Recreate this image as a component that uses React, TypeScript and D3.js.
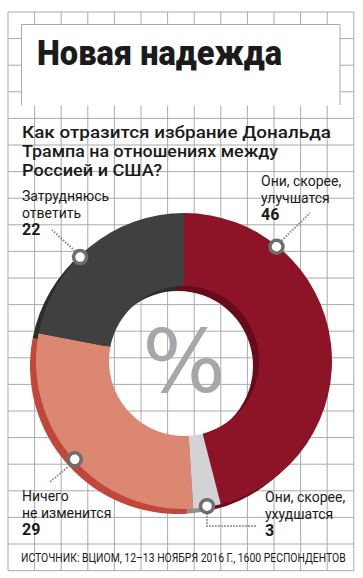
import React, { useLayoutEffect, useRef, useState } from 'react';
import * as d3 from 'd3';

// survey answers, clockwise from 12 o'clock
const categories = ['Они, скорее, улучшатся', 'Они, скорее, ухудшатся', 'Ничего не изменится', 'Затрудняюсь ответить'];
const values = [46, 3, 29, 22];
const labelLines = [
    ['Они, скорее,', 'улучшатся'],
    ['Они, скорее,', 'ухудшатся'],
    ['Ничего', 'не изменится'],
    ['Затрудняюсь', 'ответить'],
];
const sliceColors = ['#8d1427', '#d3d3d5', '#dc8771', '#404040'];
const shadowColors = ['#680b1a', '#8e8e90', '#c0473b', '#2c2c2c'];

const title = 'Новая надежда';
const questionLines = ['Как отразится избрание Дональда', 'Трампа на отношениях между', 'Россией и США?'];
const source = 'ИСТОЧНИК: ВЦИОМ, 12–13 НОЯБРЯ 2016 Г., 1600 РЕСПОНДЕНТОВ';

const W = 363;
const H = 578;
const cell = 26.6;
const gridX0 = 8;
const gridY0 = 12;
const cols = 13;
const rows = 21;

const cx = 184;
const cy = 361;
const outerR = 148;
const innerR = 75;
const shadowDx = -6;
const shadowDy = 5;

// where the callout markers sit on the ring (degrees clockwise from top), null = slice centre
const markerAngles: (number | null)[] = [39, null, 228, 315];
const labelPos = [
    { x: 261, y: 186 },
    { x: 265, y: 502 },
    { x: 22, y: 501 },
    { x: 22, y: 201 },
];

const font = 'Roboto, "DejaVu Sans", sans-serif';
const sourceWidth = 325;

const App: React.FC = () => {
    const sourceRef = useRef<SVGTextElement>(null);
    const [sourceScale, setSourceScale] = useState(0.8);

    useLayoutEffect(() => {
        if (!sourceRef.current) return;
        const len = sourceRef.current.getComputedTextLength();
        if (len > 0) setSourceScale(sourceWidth / len);
    }, []);

    const pie = d3.pie<number>().sort(null).value(d => d);
    const arcs = pie(values);
    const arc = d3.arc<d3.PieArcDatum<number>>().innerRadius(innerR).outerRadius(outerR);

    const xs = d3.range(cols + 1).map(i => gridX0 + i * cell);
    const ys = d3.range(rows + 1).map(i => gridY0 + i * cell);
    const gridRight = xs[xs.length - 1];
    const gridBottom = ys[ys.length - 1];

    const markers = arcs.map((a, i) => {
        const deg = markerAngles[i] ?? ((a.startAngle + a.endAngle) / 2) * 180 / Math.PI;
        const rad = deg * Math.PI / 180;
        const r = outerR - 1;
        return { x: cx + r * Math.sin(rad), y: cy - r * Math.cos(rad) };
    });

    const m = markers;
    const leaders = [
        `M${m[0].x + 5},${m[0].y - 6} L310,213`,
        `M${m[1].x},${m[1].y + 7} L${m[1].x},526 L257,526`,
        `M${m[2].x - 5},${m[2].y + 6} L50,482`,
        `M${m[3].x - 5},${m[3].y - 6} L52,230`,
    ];

    return (
        <svg width={W} height={H} style={{ position: 'fixed', left: 0, top: 0, background: '#fff' }}>
            <g stroke="#aaaaaa" strokeWidth={1}>
                {xs.map((x, i) => (
                    <line key={'v' + i} x1={x} x2={x} y1={gridY0} y2={gridBottom} />
                ))}
                {ys.map((y, i) => (
                    <line key={'h' + i} x1={gridX0} x2={gridRight} y1={y} y2={y} />
                ))}
            </g>

            {/* title box */}
            <rect x={21.5} y={24.5} width={318.5} height={81} fill="#fff" />
            <path d="M21.5,105 V24.5 H340 V105" fill="none" stroke="#aaaaaa" strokeWidth={1} />
            <text x={37} y={65} fontFamily={font} fontWeight={900} fontSize={35} fill="#1b1b1b"
                textLength={245} lengthAdjust="spacingAndGlyphs">{title}</text>

            {questionLines.map((t, i) => (
                <text key={t} x={22} y={138 + i * 19} fontFamily={font} fontWeight={500} fontSize={16}
                    fill="#1b1b1b" textLength={[309, 256, 140][i]} lengthAdjust="spacingAndGlyphs">{t}</text>
            ))}

            {/* donut: extruded shadow first, then the face */}
            <g transform={`translate(${cx + shadowDx},${cy + shadowDy})`}>
                {arcs.map((a, i) => (
                    <path key={'s' + i} d={arc(a) || ''} fill={shadowColors[i]} />
                ))}
            </g>
            <g transform={`translate(${cx},${cy})`}>
                {arcs.map((a, i) => (
                    <path key={categories[i]} d={arc(a) || ''} fill={sliceColors[i]} />
                ))}
            </g>

            <text x={cx} y={392} textAnchor="middle" fontFamily='"DejaVu Sans", sans-serif' fontSize={88}
                fill="#a6a6ac">%</text>

            {leaders.map((d, i) => (
                <path key={'l' + i} d={d} fill="none" stroke="#8a8a8a" strokeWidth={2} strokeDasharray="1.5,1.5" />
            ))}
            {markers.map((p, i) => (
                <circle key={'m' + i} cx={p.x} cy={p.y} r={6.5} fill="#fff" stroke="#6e6e6e" strokeWidth={3.5} />
            ))}

            {labelLines.map((lines, i) => (
                <g key={'t' + i} fontFamily={font} fill="#1b1b1b">
                    {lines.map((t, j) => (
                        <text key={t} x={labelPos[i].x} y={labelPos[i].y + j * 16.5} fontSize={14}>{t}</text>
                    ))}
                    <text x={labelPos[i].x} y={labelPos[i].y + 34} fontSize={16} fontWeight={700}>{values[i]}</text>
                </g>
            ))}

            {/* condensed source line: measured, then squeezed horizontally */}
            <g transform={`translate(21,562) scale(${sourceScale},1)`}>
                <text ref={sourceRef} x={0} y={0} fontFamily={font} fontSize={12} fill="#1b1b1b">{source}</text>
            </g>
        </svg>
    );
};

export default App;
